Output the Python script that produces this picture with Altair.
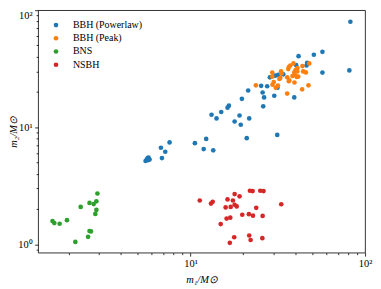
import altair as alt
import pandas as pd

# ---- data ----
pl_m1 = [82.4, 81.3, 57.0, 50.9, 41.6, 57.0, 46.6, 46.2, 39.3, 30.2, 31.5, 27.5, 25.4, 21.4,
         25.9, 26.4, 19.7, 26.1, 16.6, 16.3, 15.0, 13.2, 14.1, 19.1, 17.9, 19.4, 21.7, 21.0,
         31.4, 12.3, 10.6, 11.9, 13.5, 7.59, 6.77, 7.17, 6.86, 5.53, 5.61, 5.68, 5.75, 5.72,
         5.83, 28.5, 30.6, 31.8, 34.0, 40.3]
pl_m2 = [79.6, 30.6, 44.1, 41.6, 40.5, 29.3, 35.5, 33.7, 18.0, 18.6, 21.8, 22.4, 22.6, 20.6,
         19.8, 18.0, 17.5, 15.1, 15.3, 14.7, 13.5, 12.8, 11.9, 12.6, 11.2, 10.5, 11.9, 8.07,
         8.61, 7.96, 7.32, 6.51, 6.35, 7.42, 6.68, 6.18, 5.46, 5.15, 5.30, 5.46, 5.52, 5.25,
         5.30, 26.7, 27.6, 28.0, 28.3, 33.9]

pk_m1 = [23.7, 29.4, 30.0, 29.5, 31.7, 30.8, 33.0, 33.2, 32.7, 35.8, 36.8, 39.4, 35.8, 36.3,
         36.6, 37.3, 38.9, 40.0, 39.3, 41.0, 40.9, 38.4, 39.7, 40.7, 41.4, 43.8, 44.2, 45.8,
         47.9, 43.6, 47.4, 29.4, 32.3, 36.6]
pk_m2 = [22.8, 29.3, 24.3, 23.1, 22.7, 21.8, 30.0, 28.8, 26.4, 26.7, 25.2, 24.1, 19.4, 31.4,
         32.7, 33.7, 35.1, 30.8, 29.4, 32.1, 30.0, 27.4, 27.8, 26.9, 27.1, 33.3, 30.0, 29.4,
         35.1, 21.1, 22.8, 27.1, 25.9, 24.7]

bns_m1 = [2.93, 2.64, 2.89, 2.79, 2.35, 2.89, 2.85, 1.62, 1.66, 1.78, 1.96, 2.64, 2.69, 2.59, 2.19]
bns_m2 = [2.72, 2.26, 2.33, 2.21, 2.09, 1.97, 1.82, 1.58, 1.52, 1.50, 1.61, 1.30, 1.29, 1.16, 1.05]

nsbh_m1 = [11.3, 13.1, 13.4, 16.3, 17.9, 19.1, 17.5, 21.9, 22.7, 25.1, 26.2, 15.9, 17.0, 17.9,
           18.4, 23.8, 33.1, 19.8, 21.6, 22.8, 25.9, 16.1, 16.9, 14.9, 17.8, 16.8, 21.7, 22.1, 25.8]
nsbh_m2 = [2.37, 2.23, 2.31, 2.42, 2.69, 2.57, 2.37, 2.87, 2.85, 2.87, 2.85, 2.07, 2.09, 2.18,
           2.11, 2.05, 2.20, 1.79, 1.81, 1.76, 1.75, 1.66, 1.69, 1.49, 1.15, 1.03, 1.19, 1.09, 1.13]

labels = ["BBH (Powerlaw)", "BBH (Peak)", "BNS", "NSBH"]
colors = ["#1f77b4", "#ff7f0e", "#2ca02c", "#d62728"]

rows = []
for name, a, b in zip(labels, [pl_m1, pk_m1, bns_m1, nsbh_m1], [pl_m2, pk_m2, bns_m2, nsbh_m2]):
    for u, v in zip(a, b):
        rows.append({"m1": u, "m2": v, "pop": name})
df = pd.DataFrame(rows)

x_ticks = [2, 3, 4, 5, 6, 7, 8, 9, 10, 20, 30, 40, 50, 60, 70, 80, 90, 100]
y_ticks = [0.9, 1, 2, 3, 4, 5, 6, 7, 8, 9, 10, 20, 30, 40, 50, 60, 70, 80, 90, 100]

FONT = "Liberation Serif"
major = "datum.value == 1 || datum.value == 10 || datum.value == 100"
lbl = "datum.value == 1 ? '10⁰' : datum.value == 10 ? '10¹' : datum.value == 100 ? '10²' : ''"

def make_axis(vals, title, **kw):
    return alt.Axis(
        values=vals, labelExpr=lbl, title=title, grid=False,
        tickSize={"condition": {"test": major, "value": 3.5}, "value": 2},
        tickColor="#000", tickWidth=0.8, domain=False,
        labelFont=FONT, labelFontSize=10.5, labelColor="#000",
        labelFlush=False, labelOverlap=False, labelPadding=2.5,
        titleFont=FONT, titleFontSize=10.5, titleFontStyle="italic",
        titleFontWeight="normal", titleColor="#000", **kw)

chart = alt.Chart(df).mark_circle(size=22, opacity=1).encode(
    x=alt.X("m1:Q", scale=alt.Scale(type="log", domain=[1.34, 100], nice=False),
            axis=make_axis(x_ticks, "m₁/M⊙", titlePadding=6)),
    y=alt.Y("m2:Q", scale=alt.Scale(type="log", domain=[0.85, 100], nice=False),
            axis=make_axis(y_ticks, "m₂/M⊙", titleX=-20, titleBaseline="bottom",
                           labelBaseline={"condition": {"test": "datum.value == 100", "value": "top"},
                                          "value": "middle"})),
    color=alt.Color("pop:N", scale=alt.Scale(domain=labels, range=colors),
                    legend=alt.Legend(title=None, orient="none", legendX=13, legendY=10,
                                      symbolType="circle", symbolSize=22, symbolOpacity=1,
                                      labelFont=FONT, labelFontSize=10, labelColor="#000",
                                      labelOffset=12, rowPadding=3.3, padding=0)),
).properties(
    width=329, height=244,
    autosize=alt.AutoSizeParams(type="none"),
    padding={"left": 30.3, "top": 1.3, "right": 8, "bottom": 36},
).configure_view(stroke="#000", strokeWidth=0.8)

chart.save("out.html", embed_options={"renderer": "svg", "actions": False})
